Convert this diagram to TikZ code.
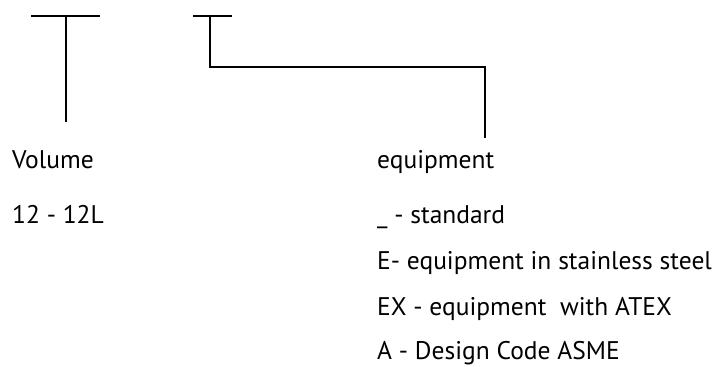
\documentclass[tikz,border=0pt]{standalone}
\usepackage{fontspec}
\setmainfont{PT Sans}
\begin{document}
\begin{tikzpicture}[x=1pt,y=-1pt,
    markline/.style={line width=2pt},
    codetext/.style={anchor=base west,inner sep=0pt,font=\fontsize{25.5}{30}\selectfont}]
\useasboundingbox (0,0) rectangle (718,367);
% code marks
\coordinate (volL) at (31,16);
\coordinate (volR) at (100,16);
\coordinate (volT) at (66,16);
\coordinate (volB) at (66,122);
\coordinate (eqL) at (193,16);
\coordinate (eqR) at (232,16);
\coordinate (eqT) at (210,16);
\coordinate (eqB) at (485,138);
\draw[markline] (volL) -- (volR);
\draw[markline] (volT) -- (volB);
\draw[markline] (eqL) -- (eqR);
\draw[markline] (eqT) |- (210,67) -| (eqB);
% labels
\node[codetext] (vol) at (12,168) {Volume};
\node[codetext] (volval) at (12,223) {12 - 12L};
\node[codetext] (eq) at (377,168) {equipment};
\foreach \y/\t [count=\i] in {223/{\_ - standard},269/{E- equipment in stainless steel},
    315/{EX - equipment~ with ATEX},359.5/{A - Design Code ASME}}
    \node[codetext] (eq\i) at (377,\y) {\t};
\end{tikzpicture}
\end{document}
